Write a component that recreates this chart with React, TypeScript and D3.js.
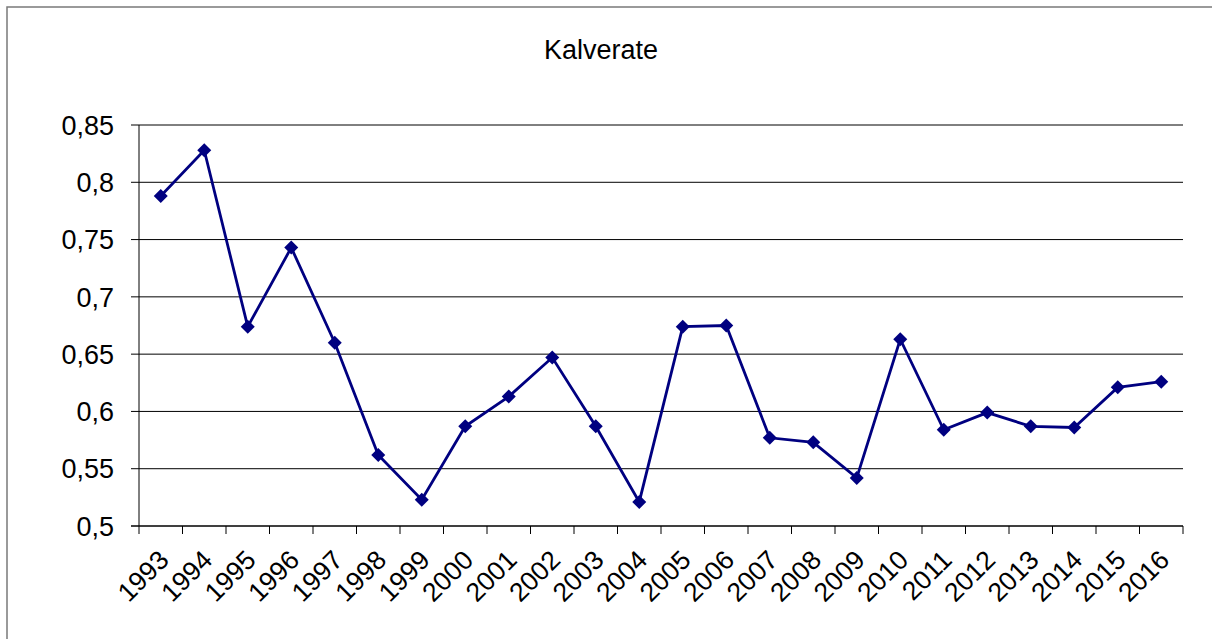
import React from 'react';
import * as d3 from 'd3';

const years = [
  '1993', '1994', '1995', '1996', '1997', '1998', '1999', '2000', '2001', '2002', '2003', '2004',
  '2005', '2006', '2007', '2008', '2009', '2010', '2011', '2012', '2013', '2014', '2015', '2016',
];
const kalverate = [
  0.788, 0.828, 0.674, 0.743, 0.66, 0.562, 0.523, 0.587, 0.613, 0.647, 0.587, 0.521,
  0.674, 0.675, 0.577, 0.573, 0.542, 0.663, 0.584, 0.599, 0.587, 0.586, 0.621, 0.626,
];
const yTicks = [0.5, 0.55, 0.6, 0.65, 0.7, 0.75, 0.8, 0.85];
const yTickLabels = ['0,5', '0,55', '0,6', '0,65', '0,7', '0,75', '0,8', '0,85'];
const title = 'Kalverate';

const W = 1212;
const H = 639;
const left = 139;
const right = 1183;
const top = 125;
const bottom = 526;

export default function App() {
  const x = d3.scaleBand<string>().domain(years).range([left, right]).padding(0);
  const y = d3.scaleLinear().domain([0.5, 0.85]).range([bottom, top]);
  const cx = (d: string) => (x(d) as number) + x.bandwidth() / 2;

  const line = d3
    .line<number>()
    .x((_, i) => cx(years[i]))
    .y((v) => y(v));

  const diamond = d3.symbol().type(d3.symbolDiamond2).size(125);
  const font = 'Liberation Sans, Arial, sans-serif';
  // category boundaries for tick marks
  const xTickPos = years.map((d) => x(d) as number).concat([right]);

  return (
    <svg
      width={W}
      height={H}
      style={{ position: 'absolute', left: 0, top: 0, display: 'block', background: '#fff' }}
    >
      <rect x={7} y={7} width={W + 20} height={H + 20} fill="#fff" stroke="#7a7a7a" strokeWidth={1.5} />

      <text x={601} y={59} textAnchor="middle" fontFamily={font} fontSize={27} fill="#000">
        {title}
      </text>

      {/* gridlines + y ticks */}
      {yTicks.map((t, i) => (
        <g key={t}>
          <line x1={left - 8} x2={right} y1={y(t)} y2={y(t)} stroke="#000" strokeWidth={1} />
          <text
            x={114}
            y={y(t)}
            dy="0.36em"
            textAnchor="end"
            fontFamily={font}
            fontSize={27}
            fill="#000"
          >
            {yTickLabels[i]}
          </text>
        </g>
      ))}

      {/* axes */}
      <line x1={left} x2={left} y1={top} y2={bottom} stroke="#000" strokeWidth={1} />
      <line x1={left - 8} x2={right} y1={bottom} y2={bottom} stroke="#000" strokeWidth={1} />
      {xTickPos.map((p, i) => (
        <line key={i} x1={p} x2={p} y1={bottom} y2={bottom + 8} stroke="#000" strokeWidth={1} />
      ))}
      {years.map((d) => (
        <text
          key={d}
          transform={`translate(${cx(d) + 3},${bottom + 29}) rotate(-45)`}
          textAnchor="end"
          dy="0.35em"
          fontFamily={font}
          fontSize={26.5}
          fill="#000"
        >
          {d}
        </text>
      ))}

      {/* series */}
      <path d={line(kalverate) || ''} fill="none" stroke="#000080" strokeWidth={2.8} />
      {kalverate.map((v, i) => (
        <path
          key={years[i]}
          d={diamond() || ''}
          transform={`translate(${cx(years[i])},${y(v)})`}
          fill="#000080"
        />
      ))}
    </svg>
  );
}
